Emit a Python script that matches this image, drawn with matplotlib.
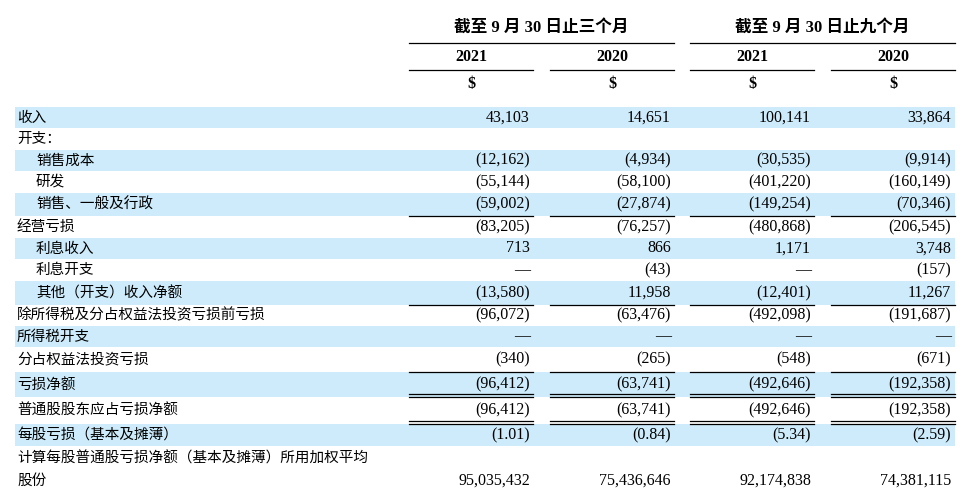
import matplotlib.pyplot as plt
from matplotlib.patches import Rectangle

# 表格内容
labels = ["收入", "开支：", "销售成本", "研发", "销售、一般及行政", "经营亏损",
          "利息收入", "利息开支", "其他（开支）收入净额",
          "除所得税及分占权益法投资亏损前亏损", "所得税开支", "分占权益法投资亏损",
          "亏损净额", "普通股股东应占亏损净额", "每股亏损（基本及摊薄）",
          "计算每股普通股亏损净额（基本及摊薄）所用加权平均\n股份"]
indented = [False, False, True, True, True, False, True, True, True,
            False, False, False, False, False, False, False]
q3_2021 = ["43,103", "", "(12,162)", "(55,144)", "(59,002)", "(83,205)", "713", "—",
           "(13,580)", "(96,072)", "—", "(340)", "(96,412)", "(96,412)", "(1.01)", "95,035,432"]
q3_2020 = ["14,651", "", "(4,934)", "(58,100)", "(27,874)", "(76,257)", "866", "(43)",
           "11,958", "(63,476)", "—", "(265)", "(63,741)", "(63,741)", "(0.84)", "75,436,646"]
m9_2021 = ["100,141", "", "(30,535)", "(401,220)", "(149,254)", "(480,868)", "1,171", "—",
           "(12,401)", "(492,098)", "—", "(548)", "(492,646)", "(492,646)", "(5.34)", "92,174,838"]
m9_2020 = ["33,864", "", "(9,914)", "(160,149)", "(70,346)", "(206,545)", "3,748", "(157)",
           "11,267", "(191,687)", "—", "(671)", "(192,358)", "(192,358)", "(2.59)", "74,381,115"]
period_titles = ["截至 9 月 30 日止三个月", "截至 9 月 30 日止九个月"]
years = ["2021", "2020", "2021", "2020"]

# 版面（像素坐标）
row_edges = [107, 128, 150, 171, 193, 216, 238, 259, 281, 305, 326, 347, 372, 397, 424, 446, 497]
shaded = [0, 2, 4, 6, 8, 10, 12, 14]
single_line_after = [4, 8, 11]
double_line_after = [12, 13]
col_spans = [(409, 533), (550, 674), (690, 814), (831, 955)]
col_right = [530, 671, 811, 951]
band_color = "#CDEBFA"

W, H = 964, 497
fig = plt.figure(figsize=(W / 100, H / 100), dpi=100)
ax = fig.add_axes([0, 0, 1, 1])
ax.set_xlim(0, W)
ax.set_ylim(H, 0)
ax.axis("off")

cjk = ["Noto Sans CJK SC", "DejaVu Sans"]
serif = ["Liberation Serif", "Noto Sans CJK SC"]

# 表头
for i, title in enumerate(period_titles):
    x0, x1 = col_spans[2 * i][0], col_spans[2 * i + 1][1]
    ax.text((x0 + x1) / 2, 28, title, ha="center", va="center", fontsize=12,
            fontweight="bold", family=serif)
    ax.plot([x0, x1], [43, 43], color="black", lw=0.9)
for j, (x0, x1) in enumerate(col_spans):
    xc = (x0 + x1) / 2
    ax.text(xc, 57, years[j], ha="center", va="center", fontsize=11.5,
            fontweight="bold", family=serif)
    ax.plot([x0, x1], [70, 70], color="black", lw=0.9)
    ax.text(xc, 84, "$", ha="center", va="center", fontsize=11.5,
            fontweight="bold", family=serif)

# 阴影行
for r in shaded:
    ax.add_patch(Rectangle((15, row_edges[r]), 940, row_edges[r + 1] - row_edges[r],
                           color=band_color, lw=0, zorder=0))

columns = [q3_2021, q3_2020, m9_2021, m9_2020]
for r, lab in enumerate(labels):
    top, bot = row_edges[r], row_edges[r + 1]
    x = 36 if indented[r] else 17
    if "\n" in lab:
        first, second = lab.split("\n")
        ax.text(x, top + 12, first, ha="left", va="center", fontsize=10.5, family=cjk)
        ax.text(x, top + 35, second, ha="left", va="center", fontsize=10.5, family=cjk)
        yv = top + 35
    else:
        yv = (top + bot) / 2
        ax.text(x, yv, lab, ha="left", va="center", fontsize=10.5, family=cjk)
    for j, col in enumerate(columns):
        if col[r]:
            ax.text(col_right[j], yv, col[r], ha="right", va="center",
                    fontsize=11.5, family=serif)

for r in single_line_after:
    y = row_edges[r + 1]
    for x0, x1 in col_spans:
        ax.plot([x0, x1], [y, y], color="black", lw=0.9)
for r in double_line_after:
    y = row_edges[r + 1]
    for x0, x1 in col_spans:
        ax.plot([x0, x1], [y - 3, y - 3], color="black", lw=0.9)
        ax.plot([x0, x1], [y - 0.5, y - 0.5], color="black", lw=0.9)

fig.savefig("out.png", dpi=100)
